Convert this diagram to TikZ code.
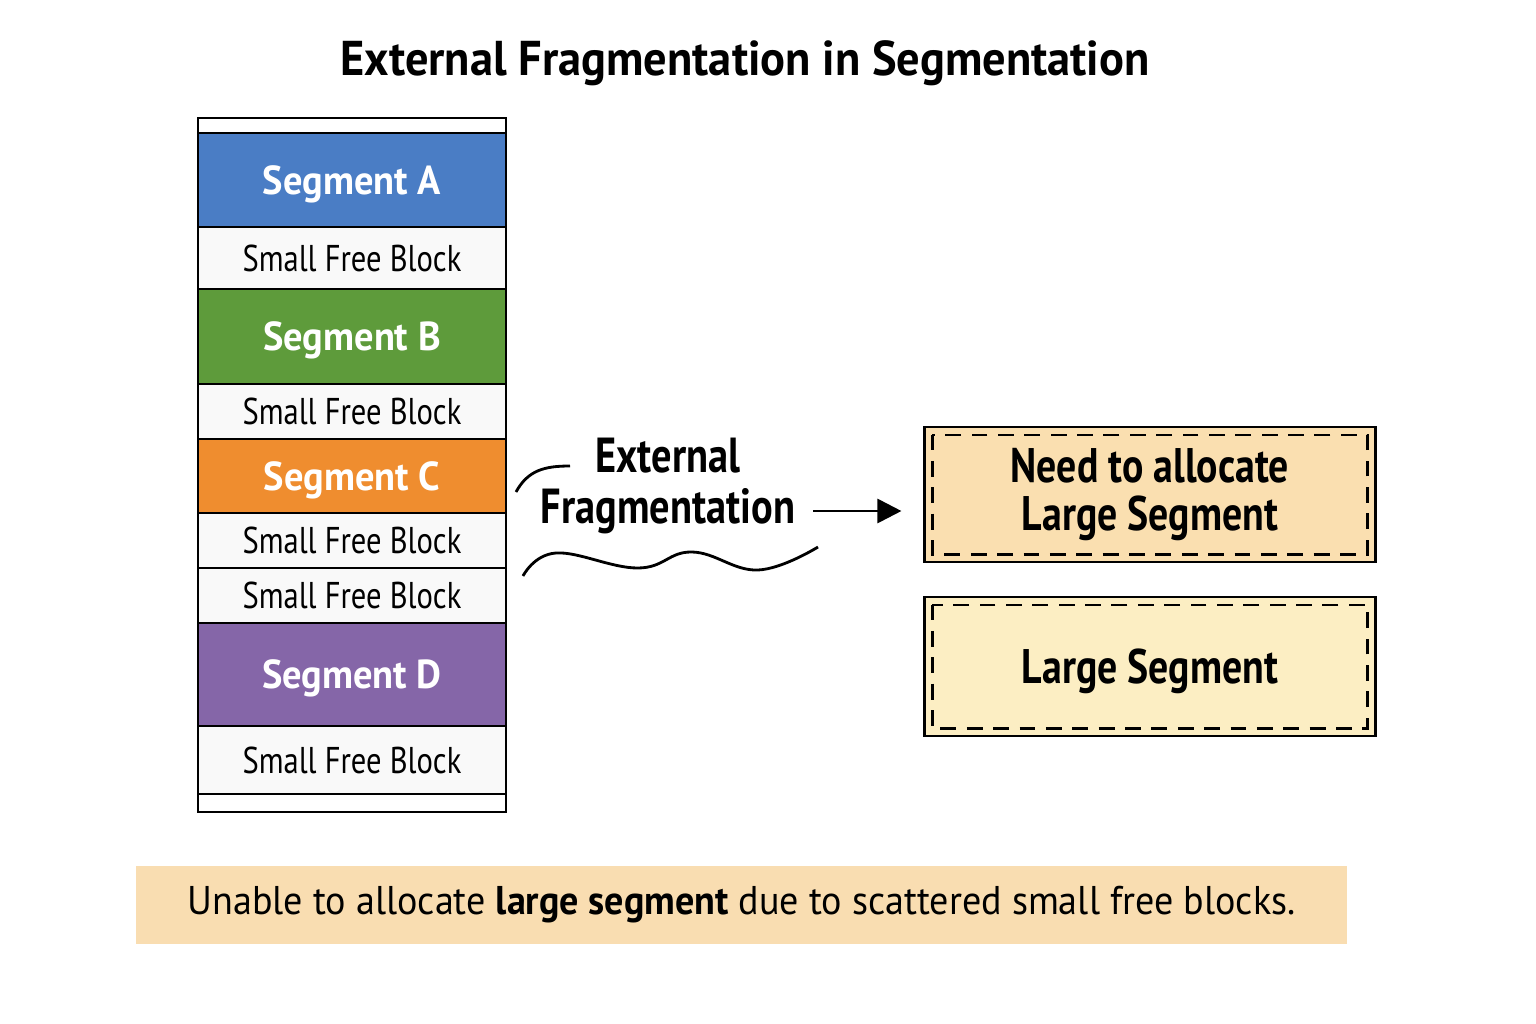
\documentclass[tikz,border=0pt]{standalone}
\usepackage{fontspec}
\setmainfont{PT Sans}[FakeStretch=0.82]
\newfontfamily\wideFont{PT Sans}[FakeStretch=0.95]
\usetikzlibrary{arrows.meta}
\definecolor{segBlue}{HTML}{4A7DC5}
\definecolor{segGreen}{HTML}{5E9B3B}
\definecolor{segOrange}{HTML}{EF8D2F}
\definecolor{segPurple}{HTML}{8566A8}
\definecolor{freeFill}{HTML}{F9F9F9}
\definecolor{needFill}{HTML}{FADFB0}
\definecolor{largeFill}{HTML}{FCEEC3}
\definecolor{noteFill}{HTML}{F9DDB1}
\begin{document}
\begin{tikzpicture}[x=0.01cm,y=-0.01cm,
                      segNode/.style={rectangle,draw,line width=0.7pt,minimum width=3.08cm,
                        inner sep=0pt,text depth=0pt,text=white,font=\wideFont\fontsize{11.5}{13}\selectfont\bfseries},
                      freeNode/.style={rectangle,draw,line width=0.7pt,minimum width=3.08cm,
                        inner sep=0pt,fill=freeFill,font=\fontsize{10.6}{13}\selectfont},
                      boxNode/.style={rectangle,draw,line width=0.8pt,minimum width=4.5cm,
                        align=center,font=\fontsize{13.8}{13.4}\selectfont\bfseries},
                      innerDash/.style={line width=0.6pt,dash pattern=on 4.5pt off 3pt}]
    \useasboundingbox (0,0) rectangle (1536,1024);
    % title
    \node [font=\wideFont\fontsize{13.9}{16}\selectfont\bfseries] (title) at (745,63) {External Fragmentation in Segmentation};
    % memory stack
    \node [freeNode,minimum height=0.15cm,fill=white] (topStrip) at (352,125.5) {};
    \node [segNode,fill=segBlue,minimum height=0.94cm] (segA) at (352,180) {Segment A};
    \node [freeNode,minimum height=0.62cm] (freeA) at (352,258) {Small Free Block};
    \node [segNode,fill=segGreen,minimum height=0.95cm] (segB) at (352,336.5) {Segment B};
    \node [freeNode,minimum height=0.55cm] (freeB) at (352,411.5) {Small Free Block};
    \node [segNode,fill=segOrange,minimum height=0.74cm] (segC) at (352,476) {Segment C};
    \node [freeNode,minimum height=0.55cm] (freeC) at (352,540.5) {Small Free Block};
    \node [freeNode,minimum height=0.55cm] (freeD) at (352,595.5) {Small Free Block};
    \node [segNode,fill=segPurple,minimum height=1.03cm] (segD) at (352,674.5) {Segment D};
    \node [freeNode,minimum height=0.68cm] (freeE) at (352,760) {Small Free Block};
    \node [freeNode,minimum height=0.18cm,fill=white] (botStrip) at (352,803) {};
    % label and squiggles
    \node [align=center,font=\fontsize{14}{14.5}\selectfont\bfseries] (extFrag) at (668,486) {External\\Fragmentation};
    \draw [line width=0.8pt] (516,492) .. controls (528,470) and (545,466) .. (570,466);
    \draw [line width=0.8pt] plot [smooth,tension=0.7] coordinates {(523,576) (556,553) (638,568) (692,552) (758,570) (818,547)};
    % right boxes
    \node [boxNode,fill=needFill,minimum height=1.35cm] (need) at (1150,494.5) {Need to allocate\\Large Segment};
    \draw [innerDash] ([shift={(0.09cm,-0.09cm)}]need.north west) rectangle ([shift={(-0.09cm,0.09cm)}]need.south east);
    \node [boxNode,fill=largeFill,minimum height=1.39cm,text depth=0pt] (large) at (1150,666.5) {Large Segment};
    \draw [innerDash] ([shift={(0.09cm,-0.09cm)}]large.north west) rectangle ([shift={(-0.09cm,0.09cm)}]large.south east);
    \coordinate (arrStart) at (813,511);
    \draw [line width=0.8pt,-{Triangle[length=0.24cm,width=0.24cm]}] (arrStart) -- ([xshift=-0.22cm]need.west |- arrStart);
    % bottom note
    \node [rectangle,fill=noteFill,minimum width=12.11cm,minimum height=0.77cm,
           font=\wideFont\fontsize{11.4}{14}\selectfont] (note) at (741.5,905)
      {Unable to allocate \textbf{large segment} due to scattered small free blocks.};
  \end{tikzpicture}
\end{document}
